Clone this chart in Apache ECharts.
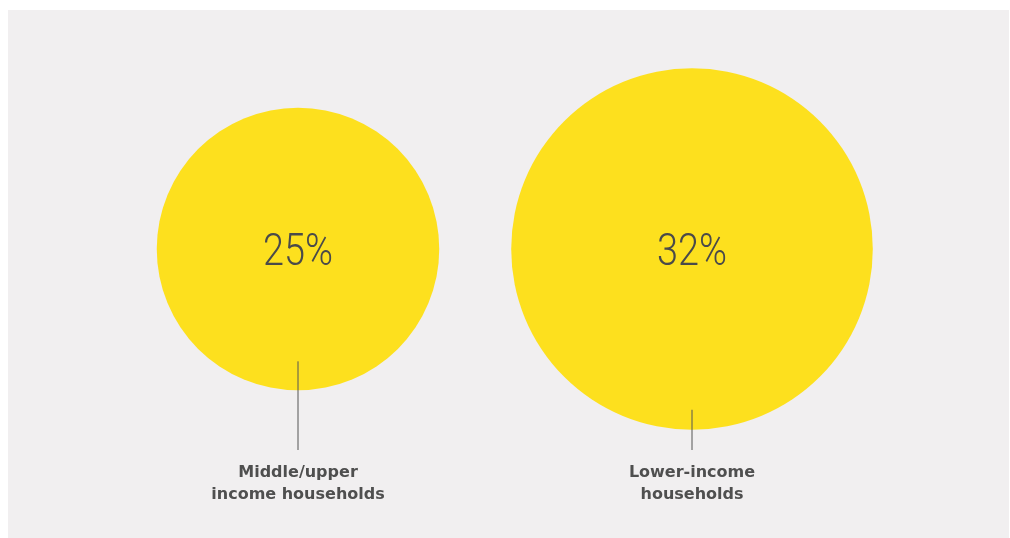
<!DOCTYPE html>
<html>
<head>
<meta charset="utf-8">
<script src="https://cdn.jsdelivr.net/npm/echarts@6/dist/echarts.min.js"></script>
<style>
html,body{margin:0;padding:0;background:#ffffff;}
#chart{width:1010px;height:538px;}
</style>
</head>
<body>
<div id="chart"></div>
<script>
var categories = ['Middle/upper\nincome households', 'Lower-income\nhouseholds'];
var values = [25, 32];
var valueLabels = ['25%', '32%'];

var PX_PER_UNIT = 5.65; // radius in px per percentage point

var chart = echarts.init(document.getElementById('chart'));
chart.setOption({
  backgroundColor: '#ffffff',
  animation: false,
  graphic: [{
    type: 'rect', z: -10, silent: true,
    shape: { x: 8, y: 10, width: 1001, height: 528 },
    style: { fill: '#f1eff0' }
  }],
  grid: { left: 101, width: 788, top: 68, height: 362 },
  xAxis: { type: 'category', data: categories, boundaryGap: true, show: false },
  yAxis: { type: 'value', min: -1, max: 1, show: false },
  series: [{
    type: 'custom',
    data: values.map(function (v, i) { return [i, 0, v]; }),
    renderItem: function (params, api) {
      var i = params.dataIndex;
      var c = api.coord([api.value(0), api.value(1)]);
      var r = api.value(2) * PX_PER_UNIT;
      var lineTop = c[1] + 1.225 * r - 60.7;
      var lineBottom = 450;
      return {
        type: 'group',
        children: [
          { type: 'circle', shape: { cx: c[0], cy: c[1], r: r }, style: { fill: '#fde01e' } },
          { type: 'text', x: c[0], y: c[1] + 5, scaleX: 0.86, scaleY: 1,
            style: { x: 0, y: 0, text: valueLabels[i], align: 'center', verticalAlign: 'middle',
              fill: '#4a4a4a', font: '300 44px "Roboto", "Liberation Sans", sans-serif' } },
          { type: 'line', shape: { x1: c[0], y1: lineTop, x2: c[0], y2: lineBottom }, style: { stroke: '#555555', lineWidth: 1 } },
          { type: 'text', style: { x: c[0], y: 462, text: categories[i], align: 'center', verticalAlign: 'top',
              fill: '#4f4f4f', font: 'bold 16px "DejaVu Sans", sans-serif', lineHeight: 22 } }
        ]
      };
    }
  }]
});
</script>
</body>
</html>
